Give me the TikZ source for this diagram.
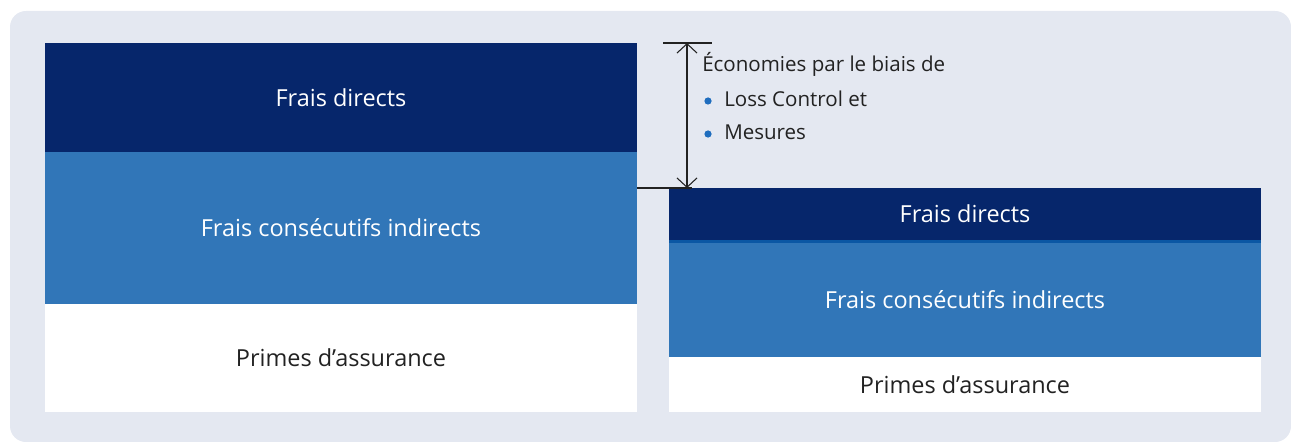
\documentclass[tikz,border=0pt]{standalone}
\usepackage{fontspec}
\setmainfont{Open Sans}
\usepackage{tikz}
\usetikzlibrary{arrows.meta}
\definecolor{background}{HTML}{E4E8F1}
\definecolor{darknavy}{HTML}{06266B}
\definecolor{midblue}{HTML}{3176B8}
\definecolor{stripeblue}{HTML}{0B57A4}
\definecolor{textgray}{HTML}{222222}
\definecolor{bulletblue}{HTML}{1F6DBE}

\begin{document}
\begin{tikzpicture}[x=0.75pt, y=-0.75pt,
	box/.style={anchor=north west, inner sep=0pt, outer sep=0pt, minimum width=444pt, font=\fontsize{17.6}{20}\selectfont},
	direct/.style={box, fill=darknavy, text=white},
	indirect/.style={box, fill=midblue, text=white},
	premium/.style={box, fill=white, text=textgray},
	measure/.style={draw=textgray, line width=0.8pt},
	note/.style={anchor=base west, inner sep=0pt, text=textgray, font=\fontsize{15.4}{18}\selectfont} ]

	\useasboundingbox (0,0) rectangle (1291,442);
	\fill[background, rounded corners=12pt] (10,11) rectangle (1291,442);

	% avant
	\node[direct, minimum height=81.75pt] (ldirect) at (45,43) {Frais directs};
	\node[indirect, minimum height=114pt] (lindirect) at (45,152) {Frais consécutifs indirects};
	\node[premium, minimum height=81pt] (lpremium) at (45,304) {Primes d’assurance};

	% après
	\node[direct, minimum height=39pt] (rdirect) at (669,188) {Frais directs};
	\node[box, fill=stripeblue, minimum height=2.25pt] (rstripe) at (669,240) {};
	\node[indirect, minimum height=85.5pt] (rindirect) at (669,243) {Frais consécutifs indirects};
	\node[premium, minimum height=41.25pt] (rpremium) at (669,357) {Primes d’assurance};

	% économies
	\coordinate (top) at (687,43);
	\coordinate (bottom) at (687,188);
	\draw[measure] (663,43) -- (712,43);
	\draw[measure] (ldirect.east |- bottom) -- (692,188);
	\draw[measure, {Straight Barb[length=7pt,width=15pt]}-{Straight Barb[length=7pt,width=15pt]}] (top) -- (bottom);

	\node[note] (save) at (702,72) {Économies par le biais de};
	\node[note] (loss) at (724,107) {Loss Control et};
	\node[note] (meas) at (724,140) {Mesures};
	\fill[bulletblue] (708,101) circle (2.7pt);
	\fill[bulletblue] (708,134) circle (2.7pt);
\end{tikzpicture}
\end{document}
